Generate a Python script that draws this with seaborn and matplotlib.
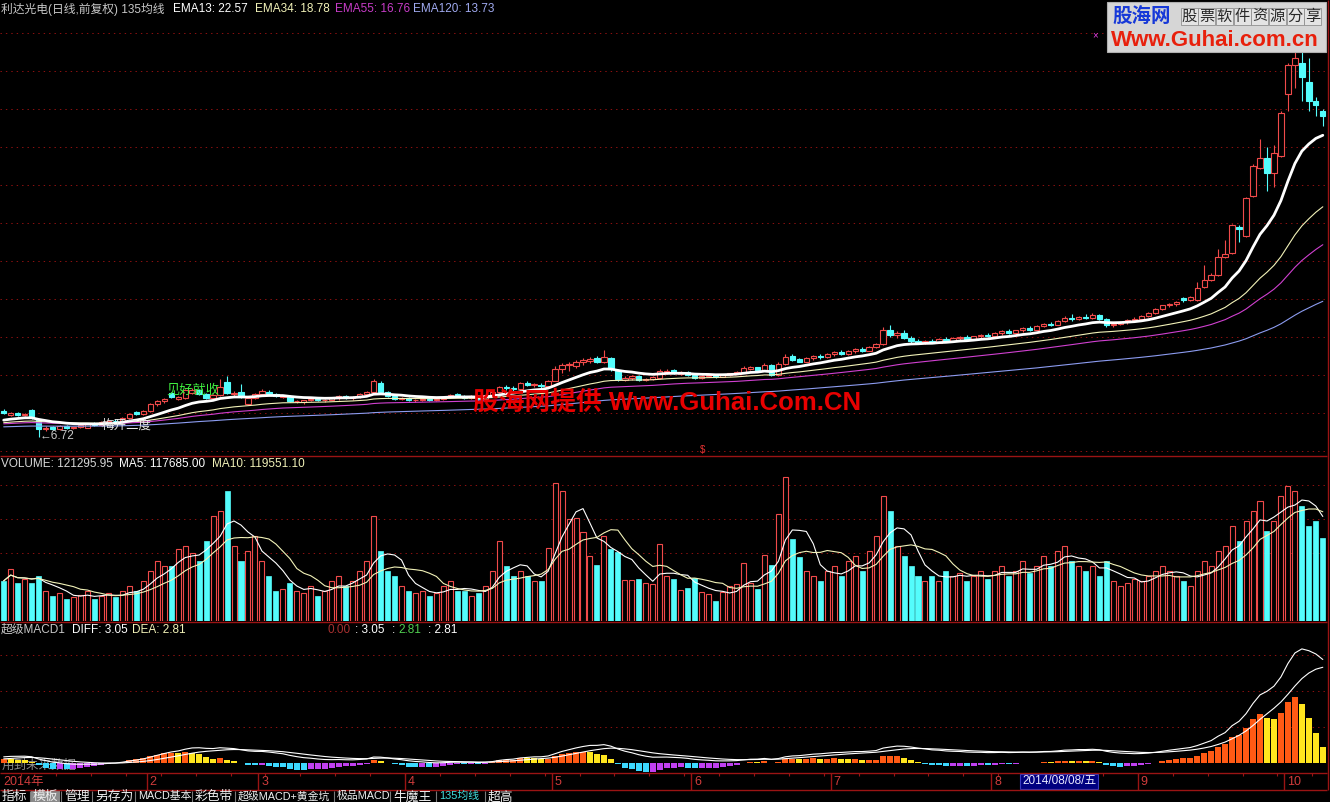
import numpy as np
import pandas as pd
import matplotlib
matplotlib.use('Agg')
import matplotlib.pyplot as plt
import seaborn as sns
from matplotlib.patches import Rectangle

# ─────────────────────────────────────────────────────────────
# DATA  (daily bars, 2014-01-02 .. 2014-10-15)
# ─────────────────────────────────────────────────────────────
opens = [
    8.10, 7.90, 8.00, 7.88, 8.15, 7.65, 7.15, 7.25, 7.15, 7.30, 7.20, 7.28, 7.20, 7.42, 7.35, 7.50, 7.58, 7.55, 7.75, 8.02, 7.92,
    8.10, 8.45, 8.60, 9.05, 8.75, 8.80, 9.05, 9.20, 9.00, 8.80, 8.92, 9.60, 9.00, 9.10, 8.45, 8.80,
    9.00, 9.12, 9.00, 8.85, 8.90, 8.60, 8.55, 8.65, 8.75, 8.65, 8.70, 8.80, 8.90, 8.80, 8.85, 9.00, 9.10, 9.55, 9.10, 8.90, 8.75,
    8.80, 8.65, 8.70, 8.75, 8.65, 8.72, 8.85, 9.00, 8.90, 8.80, 8.88, 8.75, 8.92, 9.10, 9.35, 9.30, 9.25, 9.55, 9.45, 9.45, 9.40,
    9.70, 10.30, 10.50, 10.45, 10.65, 10.75, 10.90, 10.65, 10.90, 10.25, 9.75, 9.85, 9.95, 9.72, 9.78, 9.85, 10.15, 10.25, 10.05, 10.15,
    10.00, 9.85, 9.92, 9.98, 9.90, 10.00, 10.08, 10.12, 10.32, 10.40, 10.25, 10.50, 10.00, 10.55, 11.00, 10.82, 10.70, 10.90, 11.00, 10.95,
    11.10, 11.20, 11.10, 11.25, 11.35, 11.28, 11.45, 11.60, 12.35, 12.10, 12.20, 11.95, 11.80, 11.70, 11.78, 11.70, 11.90, 11.80, 11.92, 12.00, 11.90, 12.02, 12.10,
    12.05, 12.20, 12.30, 12.20, 12.35, 12.45, 12.38, 12.55, 12.70, 12.62, 12.85, 13.00, 12.92, 13.05, 13.00, 13.15, 12.95, 12.60, 12.70, 12.80, 12.90,
    12.95, 13.10, 13.25, 13.45, 13.65, 13.75, 14.05, 13.95, 13.94, 14.60, 15.00, 15.25, 16.20, 16.40, 17.80, 17.30, 19.40, 20.90, 21.40, 20.60, 21.50,
    24.80, 26.30, 26.40, 25.40, 24.40, 23.90,
]
highs = [
    8.20, 8.05, 8.05, 8.00, 8.20, 7.70, 7.30, 7.30, 7.35, 7.35, 7.32, 7.40, 7.45, 7.50, 7.55, 7.62, 7.70, 7.80, 8.00, 8.08, 8.15,
    8.50, 8.65, 8.80, 9.10, 8.90, 9.25, 9.30, 9.25, 9.05, 9.00, 9.80, 9.95, 9.15, 9.50, 8.85, 9.05,
    9.25, 9.20, 9.05, 8.95, 8.92, 8.70, 8.70, 8.80, 8.80, 8.75, 8.85, 8.95, 8.95, 8.90, 9.05, 9.15, 9.80, 9.70, 9.15, 8.95, 8.85,
    8.85, 8.75, 8.80, 8.82, 8.78, 8.90, 9.00, 9.05, 8.95, 8.92, 8.95, 8.95, 9.15, 9.40, 9.45, 9.40, 9.60, 9.65, 9.55, 9.55, 9.75,
    10.45, 10.60, 10.70, 10.80, 10.90, 10.95, 11.00, 11.30, 10.95, 10.30, 9.95, 10.00, 10.00, 9.85, 9.92, 10.30, 10.30, 10.28, 10.18, 10.18,
    10.05, 9.98, 10.02, 10.00, 10.05, 10.12, 10.20, 10.45, 10.45, 10.42, 10.60, 10.55, 10.65, 11.10, 11.10, 10.90, 10.95, 11.05, 11.10, 11.15,
    11.25, 11.30, 11.30, 11.40, 11.45, 11.50, 11.70, 12.50, 12.60, 12.30, 12.35, 12.05, 11.90, 11.85, 11.90, 11.95, 12.00, 11.98, 12.05, 12.10, 12.05, 12.15, 12.20,
    12.25, 12.35, 12.40, 12.38, 12.50, 12.55, 12.60, 12.75, 12.80, 12.90, 13.10, 13.20, 13.10, 13.20, 13.25, 13.20, 13.00, 12.75, 12.85, 12.95, 13.05,
    13.15, 13.30, 13.50, 13.70, 13.80, 13.90, 14.10, 14.15, 14.90, 15.80, 15.35, 16.60, 17.10, 17.95, 17.90, 19.35, 21.10, 22.40, 22.00, 22.10, 23.90,
    26.40, 27.60, 27.60, 26.70, 24.60, 24.00,
]
lows = [
    7.95, 7.85, 7.85, 7.85, 7.70, 6.72, 7.05, 7.10, 7.10, 7.15, 7.15, 7.20, 7.18, 7.30, 7.30, 7.42, 7.50, 7.52, 7.70, 7.90, 7.90,
    8.05, 8.35, 8.50, 8.80, 8.65, 8.75, 9.00, 8.95, 8.75, 8.70, 8.90, 9.00, 8.90, 8.80, 8.40, 8.75,
    8.95, 8.95, 8.85, 8.80, 8.55, 8.50, 8.45, 8.60, 8.60, 8.55, 8.65, 8.70, 8.75, 8.70, 8.80, 8.90, 9.05, 9.05, 8.85, 8.70, 8.65,
    8.60, 8.55, 8.62, 8.60, 8.60, 8.70, 8.80, 8.85, 8.75, 8.75, 8.70, 8.72, 8.90, 9.05, 9.20, 9.15, 9.20, 9.40, 9.35, 9.30, 9.35,
    9.65, 10.10, 10.20, 10.35, 10.50, 10.60, 10.60, 10.60, 10.20, 9.70, 9.65, 9.75, 9.70, 9.65, 9.72, 9.80, 10.05, 10.05, 10.00, 9.95,
    9.80, 9.80, 9.88, 9.85, 9.86, 9.95, 10.02, 10.10, 10.25, 10.20, 10.20, 9.95, 9.95, 10.50, 10.75, 10.65, 10.65, 10.80, 10.85, 10.90,
    11.00, 11.05, 11.05, 11.15, 11.20, 11.25, 11.40, 11.55, 12.00, 11.95, 11.90, 11.70, 11.60, 11.60, 11.65, 11.65, 11.75, 11.75, 11.85, 11.85, 11.85, 11.95, 12.00,
    12.00, 12.10, 12.15, 12.15, 12.25, 12.30, 12.35, 12.50, 12.55, 12.60, 12.80, 12.85, 12.88, 12.95, 12.95, 12.90, 12.50, 12.50, 12.60, 12.70, 12.80,
    12.90, 13.05, 13.20, 13.40, 13.55, 13.60, 13.85, 13.90, 13.90, 14.55, 14.95, 15.20, 16.15, 16.35, 17.00, 17.25, 19.35, 20.85, 19.70, 19.90, 21.45,
    23.90, 25.10, 24.40, 23.90, 23.60, 23.10,
]
closes = [
    8.00, 7.98, 7.90, 7.96, 7.75, 7.15, 7.22, 7.15, 7.30, 7.20, 7.28, 7.35, 7.42, 7.35, 7.50, 7.58, 7.55, 7.75, 7.95, 7.95, 8.10,
    8.45, 8.60, 8.75, 8.85, 8.82, 9.20, 9.22, 9.00, 8.80, 8.95, 9.35, 9.05, 9.05, 8.85, 8.80, 9.00,
    9.15, 9.00, 8.90, 8.90, 8.60, 8.62, 8.65, 8.75, 8.65, 8.70, 8.80, 8.90, 8.80, 8.85, 9.00, 9.10, 9.65, 9.10, 8.90, 8.75, 8.80,
    8.65, 8.70, 8.75, 8.65, 8.72, 8.85, 8.95, 8.90, 8.80, 8.88, 8.75, 8.92, 9.10, 9.35, 9.30, 9.25, 9.55, 9.45, 9.50, 9.40, 9.70,
    10.30, 10.50, 10.55, 10.70, 10.80, 10.85, 10.65, 10.95, 10.30, 9.80, 9.85, 9.95, 9.75, 9.80, 9.88, 10.20, 10.22, 10.10, 10.12, 10.00,
    9.85, 9.95, 9.98, 9.90, 10.02, 10.08, 10.15, 10.35, 10.40, 10.25, 10.50, 10.00, 10.55, 10.95, 10.80, 10.70, 10.90, 11.00, 10.95, 11.10,
    11.20, 11.10, 11.25, 11.35, 11.28, 11.45, 11.60, 12.35, 12.10, 12.20, 11.95, 11.80, 11.70, 11.78, 11.70, 11.90, 11.80, 11.92, 12.00, 11.90, 12.02, 12.10, 12.05,
    12.20, 12.30, 12.20, 12.35, 12.45, 12.38, 12.55, 12.70, 12.62, 12.85, 13.00, 12.92, 13.05, 13.00, 13.15, 12.95, 12.60, 12.70, 12.80, 12.90, 12.95,
    13.10, 13.25, 13.45, 13.65, 13.75, 13.85, 13.95, 14.10, 14.57, 14.99, 15.25, 16.20, 16.35, 17.90, 17.70, 19.30, 21.00, 21.40, 20.60, 21.70, 23.80,
    26.30, 26.70, 25.70, 24.40, 24.20, 23.60,
]
volumes = [
    59000, 76000, 56000, 62000, 56000, 66000, 44000, 37000, 41000, 32000, 35000, 38000, 44000, 32000, 37000, 41000, 35000, 44000, 51000, 44000, 59000,
    74000, 88000, 81000, 81000, 106000, 110000, 100000, 88000, 118000, 154000, 162000, 191000, 110000, 88000, 103000, 125000,
    88000, 66000, 44000, 47000, 56000, 44000, 41000, 51000, 37000, 44000, 59000, 66000, 51000, 59000, 74000, 88000, 154000, 103000, 74000, 66000, 51000,
    44000, 41000, 44000, 37000, 41000, 51000, 59000, 44000, 44000, 37000, 41000, 51000, 74000, 118000, 81000, 66000, 74000, 66000, 59000, 59000, 107000,
    203000, 191000, 150000, 151000, 131000, 96000, 82000, 125000, 106000, 101000, 60000, 60000, 62000, 56000, 54000, 113000, 66000, 62000, 46000, 49000,
    63000, 43000, 40000, 29000, 43000, 51000, 54000, 85000, 56000, 47000, 97000, 82000, 157000, 212000, 121000, 94000, 74000, 66000, 59000, 74000,
    81000, 66000, 88000, 96000, 74000, 103000, 125000, 184000, 162000, 110000, 96000, 81000, 66000, 59000, 66000, 59000, 74000, 66000, 71000, 59000, 66000, 74000, 62000,
    74000, 81000, 66000, 74000, 88000, 71000, 81000, 96000, 81000, 103000, 110000, 88000, 81000, 74000, 81000, 66000, 88000, 59000, 51000, 56000, 62000,
    59000, 66000, 74000, 81000, 74000, 66000, 59000, 51000, 74000, 88000, 81000, 103000, 110000, 140000, 118000, 147000, 162000, 176000, 132000, 147000, 184000,
    198000, 191000, 169000, 140000, 147000, 121296,
]

month_labels = ['2014年', '2', '3', '4', '5', '6', '7', '8', '9', '10']
month_starts = [0, 21, 37, 58, 79, 99, 119, 142, 163, 184]

ema_spans = [13, 34, 55, 120]
ema_seeds = [7.55, 7.45, 7.40, 7.25]        # EMA levels just before the first bar
macd_seeds = [7.60, 7.45, 0.10]             # EMA12, EMA26, DEA before the first bar

tab_labels = ['指标', '模板', '管理', '另存为', 'MACD基本', '彩色带', '超级MACD+黄金坑', '极品MACD', '牛魔王', '135均线', '超高']
tab_x = [2, 33, 64, 95, 138, 195, 238, 337, 393, 439, 488]

# ─────────────────────────────────────────────────────────────
# STYLE
# ─────────────────────────────────────────────────────────────
sns.set_theme(style='dark', rc={'axes.facecolor': 'black', 'figure.facecolor': 'black',
                                'axes.edgecolor': 'black', 'axes.grid': False})
plt.rcParams['font.family'] = ['Liberation Sans', 'Noto Sans CJK SC']

RED = '#f04a4a'
CYAN = '#54fcfc'
GRID = '#8b1010'
BORDER = '#9a1414'
EMA_COLORS = ['#ffffff', '#f2f2b8', '#d040d0', '#8c9cf0']
EMA_LW = [2.0, 0.8, 0.8, 0.8]
DOT = (0, (1.4, 4))

W, H = 1330, 802


def px_box(x0, y0, x1, y1):
    return [x0 / W, 1 - y1 / H, (x1 - x0) / W, (y1 - y0) / H]


def ema(vals, span, seed):
    a = 2.0 / (span + 1)
    out, prev = [], seed
    for v in vals:
        prev = a * v + (1 - a) * prev
        out.append(prev)
    return np.array(out)


df = pd.DataFrame({'open': opens, 'high': highs, 'low': lows, 'close': closes, 'vol': volumes})
df['idx'] = np.arange(len(df))
up = (df['close'] >= df['open']).values

for span, seed in zip(ema_spans, ema_seeds):
    df[f'ema{span}'] = ema(df['close'], span, seed)
df['ma5'] = df['vol'].rolling(5, min_periods=1).mean()
df['ma10'] = df['vol'].rolling(10, min_periods=1).mean()
df['diff'] = ema(df['close'], 12, macd_seeds[0]) - ema(df['close'], 26, macd_seeds[1])
df['dea'] = ema(df['diff'], 9, macd_seeds[2])
df['macd'] = 2 * (df['diff'] - df['dea'])

XLIM = (-0.53, 189.6)

fig = plt.figure(figsize=(W / 100, H / 100), dpi=100)
ax_p = fig.add_axes(px_box(0, 18, 1327, 455))
ax_v = fig.add_axes(px_box(0, 472, 1327, 621))
ax_m = fig.add_axes(px_box(0, 638, 1327, 772))
ax_d = fig.add_axes(px_box(0, 773, 1327, 790))
for ax in (ax_p, ax_v, ax_m, ax_d):
    ax.set_facecolor('black')
    ax.set_xlim(*XLIM)
    ax.set_xticks([])
    ax.set_yticks([])
    for s in ax.spines.values():
        s.set_visible(False)

# ── price panel ──
ax_p.set_ylim(5.78, 28.78)
for g in range(6, 29, 2):
    ax_p.axhline(g, color=GRID, lw=0.72, ls=DOT, zorder=0)

body_w = 0.76
for i, r in df.iterrows():
    col = RED if up[i] else CYAN
    b0, b1 = min(r.open, r.close), max(r.open, r.close)
    ax_p.vlines(i, r.low, b0, color=col, lw=0.8, zorder=2)
    ax_p.vlines(i, b1, r.high, color=col, lw=0.8, zorder=2)
    ax_p.add_patch(Rectangle((i - body_w / 2, b0), body_w, max(b1 - b0, 0.03),
                             facecolor='black' if up[i] else CYAN, edgecolor=col, lw=0.8, zorder=3))

for span, col, lw in zip(ema_spans, EMA_COLORS, EMA_LW):
    sns.lineplot(data=df, x='idx', y=f'ema{span}', ax=ax_p, color=col, lw=lw, zorder=4 if span == 13 else 3.5)

ax_p.text(5.2, 6.78, '←6.72', color='#c8c8c8', fontsize=8.5, va='center', ha='left', zorder=6)
ax_p.text(14.1, 7.35, '梅开二度', color='#e8e8e8', fontsize=9, va='center', ha='left', zorder=6)
ax_p.text(23.3, 9.2, '见好就收', color='#40f040', fontsize=9.5, va='center', ha='left', zorder=6)

# ── volume panel ──
ax_v.set_ylim(0, 219000)
for g in (100000, 150000, 200000):
    ax_v.axhline(g, color=GRID, lw=0.72, ls=DOT, zorder=0)
ax_v.bar(df['idx'][up], df['vol'][up], width=0.72, facecolor='black', edgecolor=RED, lw=0.8, zorder=2)
ax_v.bar(df['idx'][~up], df['vol'][~up], width=0.72, facecolor=CYAN, edgecolor=CYAN, lw=0.5, zorder=2)
sns.lineplot(data=df, x='idx', y='ma5', ax=ax_v, color='#ffffff', lw=0.8, zorder=3)
sns.lineplot(data=df, x='idx', y='ma10', ax=ax_v, color='#f2f2b8', lw=0.8, zorder=3)

# ── MACD panel ──
ax_m.set_ylim(-0.25, 3.47)
for g in (1, 2, 3):
    ax_m.axhline(g, color=GRID, lw=0.72, ls=DOT, zorder=0)
ax_m.text(0.0015, 0.05, '用到未来数据', transform=ax_m.transAxes, color='#8c8c8c',
          fontsize=9, va='center', ha='left', zorder=1)
m = df['macd'].values
prev = np.r_[m[0], m[:-1]]
bar_cols = np.where(m >= 0, np.where(m >= prev, '#ff5a14', '#ffe61e'),
                    np.where(m <= prev, '#3cd8ff', '#c040f0'))
ax_m.bar(df['idx'], m, width=0.86, color=bar_cols, lw=0, zorder=2)
sns.lineplot(data=df, x='idx', y='diff', ax=ax_m, color='#ffffff', lw=0.8, zorder=3)
sns.lineplot(data=df, x='idx', y='dea', ax=ax_m, color='#ffffff', lw=0.8, zorder=3)

for ax in (ax_p, ax_v, ax_m):
    ax.set_xlabel('')
    ax.set_ylabel('')

# ── date axis ──
ax_d.set_ylim(0, 1)
for s, lab in zip(month_starts, month_labels):
    if s > 0:
        ax_d.vlines(s - 0.5, 0, 1, color=BORDER, lw=1)
    ax_d.text(s - 0.1 if s > 0 else 0.0, 0.45, lab, color='#d03c3c', fontsize=9, va='center', ha='left')
for s in range(3, 190, 5):
    ax_d.vlines(s - 0.5, 0.8, 1, color=BORDER, lw=0.8)

# ─────────────────────────────────────────────────────────────
# OVERLAY: headers, borders, tabs, watermarks
# ─────────────────────────────────────────────────────────────
ov = fig.add_axes([0, 0, 1, 1], zorder=10)
ov.set_xlim(0, W)
ov.set_ylim(H, 0)
ov.axis('off')
ov.patch.set_alpha(0)

ov.hlines([456, 622, 773, 789.5], 0, 1327, color=BORDER, lw=1)
ov.vlines(1327.5, 0, 790, color=BORDER, lw=1)

FS = 8.5
ov.text(1, 9, '利达光电(日线,前复权) 135均线', color='#c8c8c8', fontsize=FS, va='center')
ov.text(173, 9, 'EMA13: 22.57', color='#ffffff', fontsize=FS, va='center')
ov.text(255, 9, 'EMA34: 18.78', color='#f2f2b8', fontsize=FS, va='center')
ov.text(335, 9, 'EMA55: 16.76', color='#c83cc8', fontsize=FS, va='center')
ov.text(413, 9, 'EMA120: 13.73', color='#a0aaf0', fontsize=FS, va='center')

ov.text(1, 464, 'VOLUME: 121295.95', color='#d8d8d8', fontsize=FS, va='center')
ov.text(119, 464, 'MA5: 117685.00', color='#ffffff', fontsize=FS, va='center')
ov.text(212, 464, 'MA10: 119551.10', color='#f2f2b8', fontsize=FS, va='center')

ov.text(1, 630, '超级MACD1', color='#c8c8c8', fontsize=FS, va='center')
ov.text(72, 630, 'DIFF: 3.05', color='#ffffff', fontsize=FS, va='center')
ov.text(132, 630, 'DEA: 2.81', color='#f2f2b8', fontsize=FS, va='center')
ov.text(328, 630, '0.00', color='#a83030', fontsize=FS, va='center')
ov.text(355, 630, ': 3.05', color='#ffffff', fontsize=FS, va='center')
ov.text(392, 630, ':', color='#ffffff', fontsize=FS, va='center')
ov.text(398, 630, '2.81', color='#50d050', fontsize=FS, va='center')
ov.text(428, 630, ': 2.81', color='#ffffff', fontsize=FS, va='center')

# date cursor box
ov.add_patch(Rectangle((1020, 774), 78, 15, facecolor='#000080', edgecolor='#3a3ac0', lw=0.8))
ov.text(1022, 781.5, '2014/08/08/五', color='#e8e8ff', fontsize=8.5, va='center')

# markers
ov.text(703, 450, '$', color='#e03030', fontsize=7, va='center', ha='center')
ov.text(1095, 35, '×', color='#e040e0', fontsize=7, va='center', ha='center')

# tab bar (pure CJK tabs a bit larger, mixed Latin tabs narrower)
ov.add_patch(Rectangle((31, 791), 29, 12, facecolor='#8a8a8a', edgecolor='none'))
for lab, x in zip(tab_labels, tab_x):
    fs = 7.8 if any(c.isascii() for c in lab) else 9.2
    ov.text(x, 791.2, lab, color='#40e0e0' if lab == '135均线' else '#f0f0f0',
            fontsize=fs, va='top', ha='left')
    if x > 2:
        ov.vlines(x - 3, 791, 802, color='#7a7a7a', lw=0.8)

# middle watermark
ov.text(473, 402, '股海网提供 Www.Guhai.Com.CN', color='#e80000', fontsize=18.5,
        fontweight='bold', va='center', ha='left')

# top-right logo
ov.add_patch(Rectangle((1107, 2), 219, 50, facecolor='#d6d6d6', edgecolor='#b0b0b0', lw=0.8))
ov.text(1112, 17, '股海网', color='#1638d8', fontsize=14, fontweight='bold', va='center', ha='left')
for k, ch in enumerate('股票软件资源分享'):
    cx = 1189 + k * 17.7
    ov.add_patch(Rectangle((cx - 8.5, 8), 17, 17, facecolor='#e4e4e4', edgecolor='#909090', lw=0.6))
    ov.text(cx, 16.5, ch, color='#282828', fontsize=11, va='center', ha='center')
ov.text(1111, 41, 'Www.Guhai.com.cn', color='#e8200c', fontsize=16, fontweight='bold',
        va='center', ha='left')

fig.savefig('out.png', dpi=100, facecolor='black')
